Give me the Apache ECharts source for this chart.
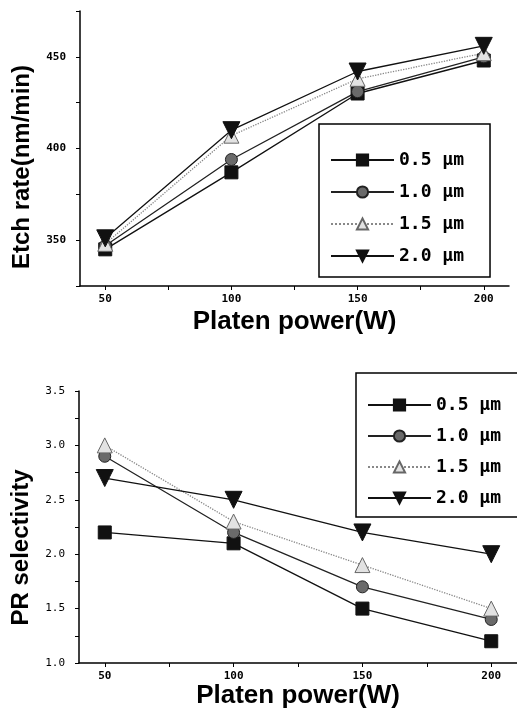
<!DOCTYPE html>
<html>
<head>
<meta charset="utf-8">
<script src="https://cdn.jsdelivr.net/npm/echarts@6/dist/echarts.min.js"></script>
<style>html,body{margin:0;padding:0;background:#fff}#c{width:517px;height:716px}</style>
</head>
<body>
<div id="c"></div>
<script>
// ---- data ----
var platenPower = [50, 100, 150, 200];
var seriesNames = ['0.5 µm', '1.0 µm', '1.5 µm', '2.0 µm'];
var etch05 = [345, 387, 430, 448];
var etch10 = [347, 394, 431, 450];
var etch15 = [348, 407, 438, 452];
var etch20 = [351, 410, 442, 456];
var sel05 = [2.2, 2.1, 1.5, 1.2];
var sel10 = [2.9, 2.2, 1.7, 1.4];
var sel15 = [3.0, 2.3, 1.9, 1.5];
var sel20 = [2.7, 2.5, 2.2, 2.0];
var xLabelValues = [50, 100, 150, 200];
var xTickValues = [50, 75, 100, 125, 150, 175, 200];

function pairs(ys) { return platenPower.map(function (x, i) { return [x, ys[i]]; }); }

var styles = [
  { symbol: 'rect', size: 13, rotate: 0, fill: '#111', border: '#111', line: '#111', type: 'solid' },
  { symbol: 'circle', size: 12, rotate: 0, fill: '#6a6a6a', border: '#222', line: '#222', type: 'solid' },
  { symbol: 'triangle', size: 15, rotate: 0, fill: '#e2e2e2', border: '#666', line: '#888', type: 'dotted' },
  { symbol: 'triangle', size: 17, rotate: 180, fill: '#111', border: '#111', line: '#111', type: 'solid' }
];

function mkSeries(name, idx, data, axisIdx) {
  var s = styles[idx];
  return {
    name: name, type: 'line', xAxisIndex: axisIdx, yAxisIndex: axisIdx,
    data: pairs(data), symbol: s.symbol, symbolSize: s.size, symbolRotate: s.rotate,
    itemStyle: { color: s.fill, borderColor: s.border, borderWidth: 1 },
    lineStyle: { color: s.line, width: 1.3, type: s.type },
    animation: false, z: 3
  };
}

var monoFont = 'DejaVu Sans Mono';
var titleFont = 'Liberation Sans';

function xAxis(gridIndex, nameGap) {
  return {
    type: 'value', gridIndex: gridIndex, min: 40, max: 210,
    name: 'Platen power(W)', nameLocation: 'middle', nameGap: nameGap,
    nameTextStyle: { fontFamily: titleFont, fontWeight: 'bold', fontSize: 26, color: '#000' },
    axisLine: { show: true, onZero: false, lineStyle: { color: '#000', width: 1.5 } },
    axisTick: { show: true, inside: false, length: 4, customValues: xTickValues, lineStyle: { color: '#000' } },
    axisLabel: { customValues: xLabelValues, margin: 8, fontFamily: monoFont, fontSize: 11, fontWeight: 'bold', color: '#000' },
    splitLine: { show: false }
  };
}

var legendCommon = {
  orient: 'vertical', itemWidth: 63, itemHeight: 14,
  backgroundColor: '#fff', borderColor: '#000', borderWidth: 1.5, borderRadius: 0,
  textStyle: { fontFamily: monoFont, fontWeight: 'bold', fontSize: 18, color: '#000', lineHeight: 17 },
  data: seriesNames
};

var option = {
  backgroundColor: '#fff',
  animation: false,
  grid: [
    { left: 80, top: 11, width: 429, height: 275 },
    { left: 79, top: 391, width: 441, height: 272 }
  ],
  xAxis: [xAxis(0, 23), xAxis(1, 18)],
  yAxis: [
    {
      type: 'value', gridIndex: 0, min: 325, max: 475, interval: 25,
      name: 'Etch rate(nm/min)', nameLocation: 'middle', nameGap: 46,
      nameTextStyle: { fontFamily: titleFont, fontWeight: 'bold', fontSize: 24, color: '#000', padding: [0, 37, 0, 0] },
      axisLine: { show: true, lineStyle: { color: '#000', width: 1.5 } },
      axisTick: { show: true, length: 4, lineStyle: { color: '#000' } },
      axisLabel: { margin: 14, fontFamily: monoFont, fontSize: 11, fontWeight: 'bold', color: '#000',
        formatter: function (v) { return v % 50 === 0 ? String(v) : ''; } },
      splitLine: { show: false }
    },
    {
      type: 'value', gridIndex: 1, min: 1, max: 3.5, interval: 0.25,
      name: 'PR selectivity', nameLocation: 'middle', nameGap: 46,
      nameTextStyle: { fontFamily: titleFont, fontWeight: 'bold', fontSize: 24, color: '#000', padding: [0, 41, 0, 0] },
      axisLine: { show: true, lineStyle: { color: '#000', width: 1.5 } },
      axisTick: { show: true, length: 4, lineStyle: { color: '#000' } },
      axisLabel: { margin: 14, fontFamily: monoFont, fontSize: 11, color: '#000',
        formatter: function (v) { return Math.abs(v * 2 - Math.round(v * 2)) < 1e-6 ? v.toFixed(1) : ''; } },
      splitLine: { show: false }
    }
  ],
  legend: [
    Object.assign({}, legendCommon, { left: 319, top: 124, itemGap: 14, padding: [27, 26, 12, 11] }),
    Object.assign({}, legendCommon, { left: 356, top: 373, itemGap: 13, padding: [23, 20, 10, 11] })
  ],
  series: [
    mkSeries(seriesNames[0], 0, etch05, 0),
    mkSeries(seriesNames[1], 1, etch10, 0),
    mkSeries(seriesNames[2], 2, etch15, 0),
    mkSeries(seriesNames[3], 3, etch20, 0),
    mkSeries(seriesNames[0], 0, sel05, 1),
    mkSeries(seriesNames[1], 1, sel10, 1),
    mkSeries(seriesNames[2], 2, sel15, 1),
    mkSeries(seriesNames[3], 3, sel20, 1)
  ]
};

var chart = echarts.init(document.getElementById('c'), null, { renderer: 'canvas' });
chart.setOption(option);
</script>
</body>
</html>
